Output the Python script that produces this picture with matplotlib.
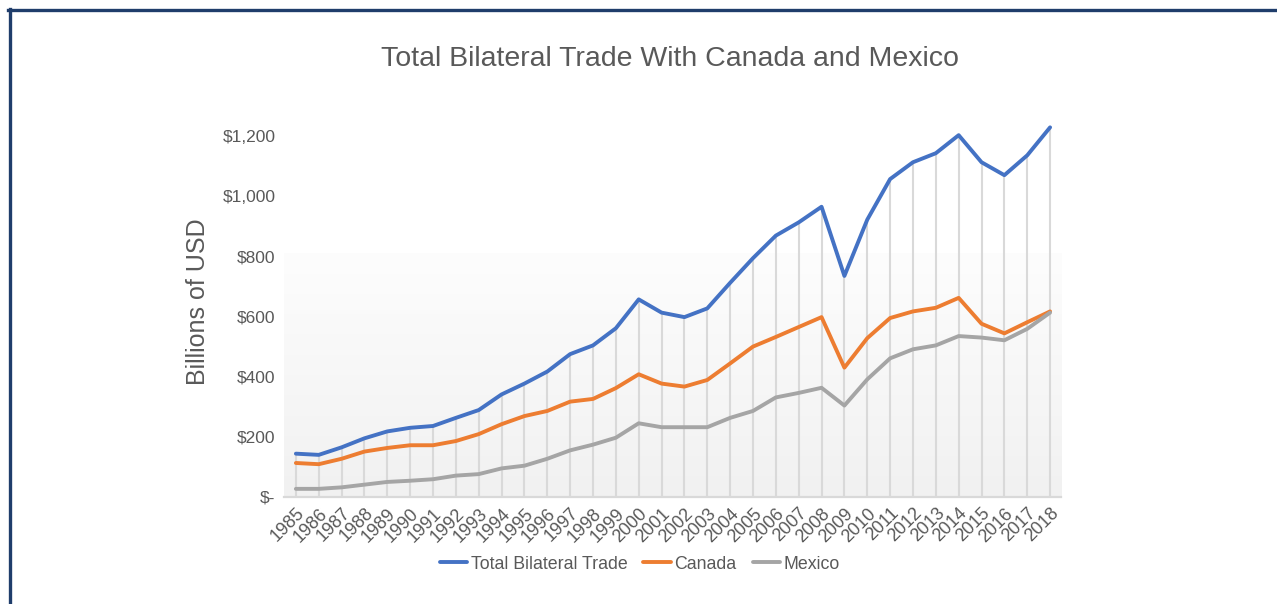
import matplotlib
matplotlib.use("Agg")
import matplotlib.pyplot as plt
import numpy as np
from matplotlib.lines import Line2D
from matplotlib.ticker import FuncFormatter
from matplotlib.colors import LinearSegmentedColormap
import matplotlib.transforms as mtransforms

years = list(range(1985, 2019))
total = [144, 140, 165, 195, 218, 230, 236, 263, 289, 341, 377, 417, 475, 504, 561,
         657, 613, 598, 627, 712, 794, 869, 913, 965, 735, 922, 1057, 1113, 1143, 1203,
         1113, 1070, 1136, 1229]
canada = [113, 109, 127, 151, 163, 172, 172, 186, 209, 242, 269, 286, 317, 326, 362,
          408, 377, 367, 389, 444, 500, 532, 565, 598, 430, 528, 595, 617, 629, 662,
          576, 544, 581, 617]
mexico = [27, 27, 32, 41, 50, 54, 59, 71, 76, 95, 104, 127, 155, 174, 197,
          245, 232, 232, 232, 263, 286, 331, 346, 363, 304, 391, 461, 491, 504, 535,
          530, 521, 559, 613]
series_names = ["Total Bilateral Trade", "Canada", "Mexico"]
yticks = [0, 200, 400, 600, 800, 1000, 1200]

plt.rcParams['font.family'] = ['Liberation Sans', 'DejaVu Sans']
TXT = '#595959'

fig = plt.figure(figsize=(12.77, 6.04), dpi=100)
fig.patch.set_facecolor('white')
ax = fig.add_axes([0.2224, 0.1772, 0.8309 - 0.2224, 0.8245 - 0.1772])
ax.set_facecolor('white')

x0, x1 = years[0] - 0.52, years[-1] + 0.48
ax.set_xlim(x0, x1)
ax.set_ylim(0, 1300)

# gradient background
grad = np.linspace(0, 1, 256).reshape(-1, 1)
cmap = LinearSegmentedColormap.from_list('g', ['#f1f1f1', '#fdfdfd'])
ax.imshow(grad, aspect='auto', cmap=cmap, origin='lower',
          extent=[x0, x1, 0, 810], zorder=0)

ax.vlines(years, 0, total, color='#d9d9d9', lw=1.5, zorder=1)

colors = ['#4472C4', '#ED7D31', '#A5A5A5']
for vals, c, n in zip([total, canada, mexico], colors, series_names):
    ax.plot(years, vals, color=c, lw=2.8, label=n, zorder=3, solid_capstyle='round')

for s in ['top', 'right', 'left']:
    ax.spines[s].set_visible(False)
ax.spines['bottom'].set_color('#d9d9d9')
ax.spines['bottom'].set_linewidth(1.6)
ax.spines['bottom'].set_zorder(2)

ax.set_yticks(yticks)
ax.yaxis.set_major_formatter(FuncFormatter(lambda v, p: '$-' if v == 0 else '${:,.0f}'.format(v)))
ax.tick_params(axis='y', length=0, pad=6, labelsize=12.5, labelcolor=TXT)
ax.set_xticks(years)
ax.set_xticklabels([str(y) for y in years], rotation=45, ha='right', va='center',
                   rotation_mode='anchor')
ax.tick_params(axis='x', length=0, pad=10, labelsize=13, labelcolor=TXT)
offset = mtransforms.ScaledTranslation(6 / 100, 0, fig.dpi_scale_trans)
for lab in ax.get_xticklabels():
    lab.set_transform(lab.get_transform() + offset)

ax.set_ylabel('Billions of USD', fontsize=18, color=TXT, labelpad=9)

fig.text(0.525, 0.903, 'Total Bilateral Trade With Canada and Mexico',
         ha='center', va='center', fontsize=20.5, color=TXT)

leg = fig.legend(loc='center', bbox_to_anchor=(0.501, 0.066), ncol=3, frameon=False,
                 fontsize=12.8, handlelength=1.55, handletextpad=0.2, columnspacing=0.9)
for t in leg.get_texts():
    t.set_color(TXT)

# frame border
fig.add_artist(Line2D([8/1277, 1], [1 - 10/604, 1 - 10/604], transform=fig.transFigure,
                      color='#1f3d6b', lw=2.4))
fig.add_artist(Line2D([9.5/1277, 9.5/1277], [1 - 8.5/604, 0], transform=fig.transFigure,
                      color='#1f3d6b', lw=2.4))

fig.savefig('out.png', dpi=100, facecolor='white')
